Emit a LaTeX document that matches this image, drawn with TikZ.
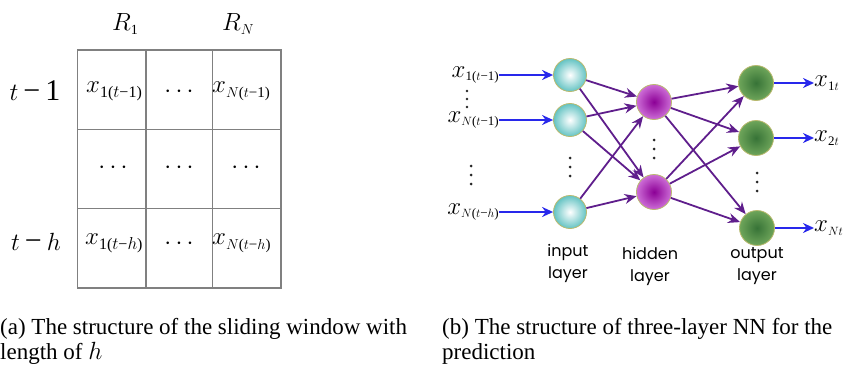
\documentclass[tikz,border=0pt]{standalone}
\usepackage{fontspec}
\setmainfont{Liberation Serif}
\newfontfamily\layerfont{Poppins}
\usetikzlibrary{arrows.meta}
\definecolor{gridgray}{RGB}{128,128,128}
\definecolor{bluearr}{RGB}{40,40,235}
\definecolor{purparr}{RGB}{95,30,140}
\definecolor{tealedge}{RGB}{100,195,195}
\definecolor{purpin}{RGB}{140,0,150}
\definecolor{purpout}{RGB}{205,110,215}
\definecolor{greenin}{RGB}{55,115,55}
\definecolor{greenout}{RGB}{110,165,90}
\definecolor{rimcol}{RGB}{185,185,110}
\newcommand{\varx}[3]{{\fontsize{#1}{#1}\selectfont$x$}{\fontsize{#2}{#2}\selectfont\raisebox{-0.3em}{#3}}}
\tikzset{
  gridline/.style={draw=gridgray, line width=1.3pt},
  lab/.style={inner sep=0pt},
  dotmark/.style={fill=black!85},
  inneuron/.style={circle, minimum size=33pt, inner sep=0pt, draw=rimcol, line width=0.8pt, inner color=white, outer color=tealedge},
  hidneuron/.style={circle, minimum size=35pt, inner sep=0pt, draw=rimcol, line width=0.8pt, inner color=purpin, outer color=purpout},
  outneuron/.style={circle, minimum size=35pt, inner sep=0pt, draw=rimcol, line width=0.8pt, inner color=greenin, outer color=greenout},
  bluearrow/.style={draw=bluearr, line width=2.4pt, -{Stealth[length=11pt,width=10pt]}},
  purparrow/.style={draw=purparr, line width=1.8pt, -{Stealth[length=12pt,width=10pt]}},
  layerlab/.style={font=\layerfont\fontsize{16}{22}\selectfont, align=center, inner sep=0pt},
  caption/.style={anchor=base west, inner sep=0pt, font=\fontsize{23}{23}\selectfont}
}
\begin{document}
\begin{tikzpicture}[x=1pt,y=-1pt]
\path[use as bounding box] (0,0) rectangle (851,372);
% ---------- grid ----------
\draw[gridline] (77.5,50) rectangle (281,288);
\draw[gridline] (146,50) -- (146,288);
\draw[gridline] (212.7,50) -- (212.7,288);
\draw[gridline] (77.5,129.3) -- (281,129.3);
\draw[gridline] (77.5,208.6) -- (281,208.6);
\node[lab, anchor=west] (x11) at (86,91) {\varx{38}{16}{1($t$−1)}};
\node[lab] (d12) at (179,92) {\fontsize{26}{26}\selectfont$\cdots$};
\node[lab, anchor=west] (xn1) at (212,91) {\varx{38}{15}{$N$($t$−1)}};
\node[lab] (d21) at (113,168) {\fontsize{26}{26}\selectfont$\cdots$};
\node[lab] (d22) at (179,168) {\fontsize{26}{26}\selectfont$\cdots$};
\node[lab] (d23) at (246,168) {\fontsize{26}{26}\selectfont$\cdots$};
\node[lab, anchor=west] (x1h) at (85,243) {\varx{38}{16}{1($t$−$h$)}};
\node[lab] (d32) at (179,244) {\fontsize{26}{26}\selectfont$\cdots$};
\node[lab, anchor=west] (xnh) at (212,243) {\varx{38}{15}{$N$($t$−$h$)}};
\node[lab] (r1) at (125,24) {\fontsize{36}{36}\selectfont$R$\fontsize{14}{14}\selectfont\raisebox{-0.3em}{1}};
\node[lab] (rn) at (238,24) {\fontsize{36}{36}\selectfont$R$\fontsize{14}{14}\selectfont\raisebox{-0.3em}{$N$}};
\node[lab] (t1) at (35,91) {\fontsize{30}{30}\selectfont$t$\,−\,1};
\node[lab] (th) at (36,242) {\fontsize{30}{30}\selectfont$t$\,−\,$h$};
% ---------- network ----------
\node[inneuron] (i1) at (570,75) {};
\node[inneuron] (i2) at (570,120) {};
\node[inneuron] (i3) at (570,212) {};
\node[hidneuron] (h1) at (654,102) {};
\node[hidneuron] (h2) at (654,192) {};
\node[outneuron] (o1) at (756,83) {};
\node[outneuron] (o2) at (756,138) {};
\node[outneuron] (o3) at (757,228) {};
% vertical ellipses
\foreach \yy in {158,167,176}{\fill[dotmark] (570,\yy) circle (1.5);}
\foreach \yy in {140,149,158}{\fill[dotmark] (654,\yy) circle (1.5);}
\foreach \yy in {173,182,191}{\fill[dotmark] (757,\yy) circle (1.5);}
\foreach \yy in {91,99,107}{\fill[dotmark] (467,\yy) circle (1.4);}
\foreach \yy in {166,175,184}{\fill[dotmark] (471,\yy) circle (1.5);}
\node[lab, anchor=east] (lx1) at (499,75) {\varx{31}{13}{1($t$−1)}};
\node[lab, anchor=east] (lx2) at (499,120) {\varx{31}{13}{$N$($t$−1)}};
\node[lab, anchor=east] (lx3) at (499,212) {\varx{31}{13}{$N$($t$−$h$)}};
\node[lab, anchor=west] (ox1) at (814,83) {\varx{31}{13}{1$t$}};
\node[lab, anchor=west] (ox2) at (814,138) {\varx{31}{13}{2$t$}};
\node[lab, anchor=west] (ox3) at (814,228) {\varx{31}{13}{$Nt$}};
\draw[bluearrow] (lx1) -- (i1);
\draw[bluearrow] (lx2) -- (i2);
\draw[bluearrow] (lx3) -- (i3);
\draw[bluearrow] (o1) -- (ox1);
\draw[bluearrow] (o2) -- (ox2);
\draw[bluearrow] (o3) -- (ox3);
\foreach \a in {i1,i2,i3}{\foreach \b in {h1,h2}{\draw[purparrow] (\a) -- (\b);}}
\foreach \a in {h1,h2}{\foreach \b in {o1,o2,o3}{\draw[purparrow] (\a) -- (\b);}}
\node[layerlab] (il) at (568,263) {input\\layer};
\node[layerlab] (hl) at (650,266) {hidden\\layer};
\node[layerlab] (ol) at (757,266) {output\\layer};
% ---------- captions ----------
\node[caption] (ca1) at (0,334) {(a) The structure of the sliding window with};
\node[caption] (ca2) at (0,359) {length of $h$};
\node[caption] (cb1) at (442,334) {(b) The structure of three-layer NN for the};
\node[caption] (cb2) at (442,359) {prediction};
\end{tikzpicture}
\end{document}
